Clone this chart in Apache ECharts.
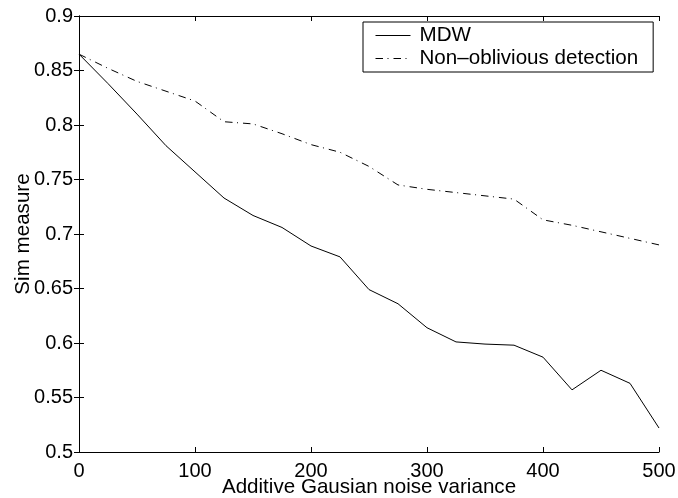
<!DOCTYPE html>
<html>
<head>
<meta charset="utf-8">
<script src="https://cdn.jsdelivr.net/npm/echarts@6/dist/echarts.min.js"></script>
<style>
html,body{margin:0;padding:0;background:#fff;}
#chart{width:678px;height:498px;}
</style>
</head>
<body>
<div id="chart"></div>
<script>
var noiseVariance = [0,25,50,75,100,125,150,175,200,225,250,275,300,325,350,375,400,425,450,475,500];
var mdwValues = [0.865,0.838,0.810,0.781,0.757,0.733,0.717,0.706,0.689,0.679,0.649,0.636,0.614,0.601,0.599,0.598,0.587,0.557,0.575,0.563,0.522];
var nonObliviousValues = [0.865,0.852,0.840,0.831,0.822,0.803,0.801,0.792,0.782,0.775,0.762,0.745,0.741,0.738,0.735,0.732,0.713,0.708,0.702,0.696,0.690];
var seriesNames = ['MDW','Non\u2013oblivious detection'];
var xTitle = 'Additive Gausian noise variance';
var yTitle = 'Sim measure';

function pairs(xs, ys){ return xs.map(function(x,i){ return [x, ys[i]]; }); }

var FONT = '"Liberation Sans", Arial, Helvetica, sans-serif';
var FS = 20;
var FT = 20.6;
var chart = echarts.init(document.getElementById('chart'), null, {renderer:'canvas'});
var axisLine = {show:true, lineStyle:{color:'#000', width:1}};
var tick = {show:true, inside:true, length:5, lineStyle:{color:'#000', width:1}};
chart.setOption({
  backgroundColor:'#fff',
  animation:false,
  textStyle:{fontFamily:FONT},
  grid:{left:79, right:19, top:16, bottom:46, containLabel:false, outerBoundsMode:'none'},
  legend:{
    orient:'vertical', left:363, top:22,
    backgroundColor:'#fff', borderColor:'#000', borderWidth:1, borderRadius:0,
    padding:[3,15,3,12], itemGap:2, itemWidth:35, itemHeight:20,
    itemStyle:{opacity:0, borderWidth:0, color:'transparent'},
    lineStyle:{width:1},
    textStyle:{fontFamily:FONT, fontSize:FT, color:'#000', padding:[0,0,0,4]},
    data:[{name:seriesNames[0]},{name:seriesNames[1]}]
  },
  xAxis:[{
    type:'value', min:0, max:500, interval:100, position:'bottom',
    name:xTitle, nameLocation:'middle', nameGap:25, nameMoveOverlap:false,
    nameTextStyle:{fontFamily:FONT, fontSize:FT, color:'#000'},
    axisLine:axisLine, axisTick:tick, splitLine:{show:false},
    axisLabel:{fontFamily:FONT, fontSize:FS, color:'#000', margin:9}
  },{
    type:'value', min:0, max:500, interval:100, position:'top',
    axisLine:axisLine, axisTick:tick, splitLine:{show:false}, axisLabel:{show:false}
  }],
  yAxis:[{
    type:'value', min:0.5, max:0.9, interval:0.05, position:'left',
    name:yTitle, nameLocation:'middle', nameGap:45, nameMoveOverlap:false,
    nameTextStyle:{fontFamily:FONT, fontSize:FT, color:'#000'},
    axisLine:axisLine, axisTick:tick, splitLine:{show:false},
    axisLabel:{fontFamily:FONT, fontSize:FS, color:'#000', margin:6,
      formatter:function(v){ return String(Math.round(v*100)/100); }}
  },{
    type:'value', min:0.5, max:0.9, interval:0.05, position:'right',
    axisLine:axisLine, axisTick:tick, splitLine:{show:false}, axisLabel:{show:false}
  }],
  series:[{
    name:seriesNames[0], type:'line', data:pairs(noiseVariance, mdwValues),
    showSymbol:false, symbol:'none', lineStyle:{color:'#000', width:1, type:'solid'},
    itemStyle:{color:'#000'}
  },{
    name:seriesNames[1], type:'line', data:pairs(noiseVariance, nonObliviousValues),
    showSymbol:false, symbol:'none', lineStyle:{color:'#000', width:1, type:[7.5,4.5,1,5]},
    itemStyle:{color:'#000'}
  }]
});
</script>
</body>
</html>
